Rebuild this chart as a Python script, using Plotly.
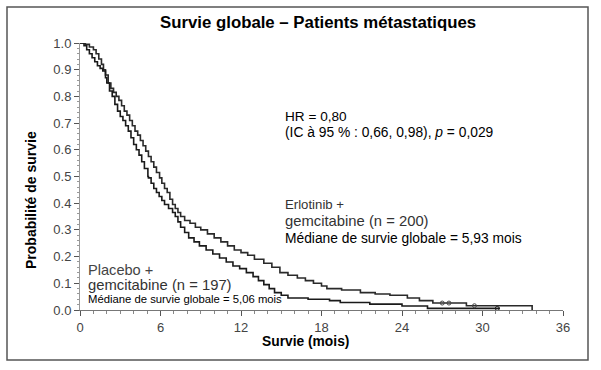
import plotly.graph_objects as go

# Erlotinib + gemcitabine (n = 200)
erl_t = [0, 0.4, 0.7, 1.0, 1.2, 1.4, 1.6, 1.75, 1.9, 2.1, 2.3, 2.5, 2.7, 2.9, 3.1, 3.3, 3.5, 3.7, 3.9,
         4.1, 4.3, 4.5, 4.7, 4.9, 5.1, 5.3, 5.5, 5.7, 5.93, 6.1, 6.3, 6.5, 6.7, 6.9, 7.1, 7.3, 7.5, 7.8,
         8.2, 8.6, 9.0, 9.5, 10.0, 10.5, 11.0, 11.5, 12.0, 12.5, 13.0, 13.7, 14.3, 14.9, 15.5, 16.2,
         16.8, 17.4, 18.0, 18.4, 19.5, 20.9, 22.0, 23.1, 24.4, 25.3, 26.3, 28.8, 33.7, 33.7]
erl_s = [1.0, 0.995, 0.985, 0.975, 0.96, 0.94, 0.92, 0.90, 0.88, 0.85, 0.83, 0.815, 0.80, 0.785, 0.765,
         0.745, 0.73, 0.71, 0.69, 0.67, 0.655, 0.635, 0.615, 0.595, 0.575, 0.555, 0.535, 0.515, 0.495,
         0.475, 0.455, 0.44, 0.415, 0.395, 0.38, 0.365, 0.35, 0.335, 0.325, 0.31, 0.30, 0.285, 0.27,
         0.255, 0.24, 0.225, 0.215, 0.205, 0.19, 0.175, 0.16, 0.14, 0.13, 0.12, 0.11, 0.10, 0.09, 0.08,
         0.075, 0.065, 0.06, 0.055, 0.045, 0.035, 0.026, 0.016, 0.016, 0.0]

# Placebo + gemcitabine (n = 197)
pla_t = [0, 0.3, 0.5, 0.7, 0.9, 1.1, 1.3, 1.5, 1.7, 1.9, 2.0, 2.2, 2.4, 2.6, 2.8, 3.0, 3.2, 3.4, 3.6,
         3.8, 4.0, 4.2, 4.4, 4.6, 4.8, 5.06, 5.1, 5.3, 5.5, 5.7, 5.9, 6.1, 6.3, 6.6, 6.9, 7.1, 7.3, 7.5,
         7.8, 8.1, 8.5, 8.9, 9.4, 9.9, 10.4, 10.9, 11.4, 11.9, 12.4, 12.9, 13.3, 13.7, 14.1, 14.5, 15.0,
         15.5, 17.0, 18.6, 19.4, 21.6, 24.0, 25.9, 31.3]
pla_s = [1.0, 0.99, 0.975, 0.96, 0.945, 0.93, 0.915, 0.905, 0.895, 0.87, 0.85, 0.82, 0.80, 0.77,
         0.745, 0.725, 0.71, 0.69, 0.67, 0.645, 0.62, 0.60, 0.58, 0.555, 0.53, 0.50, 0.495, 0.475,
         0.455, 0.44, 0.425, 0.41, 0.395, 0.38, 0.365, 0.35, 0.33, 0.31, 0.29, 0.27, 0.255, 0.24,
         0.225, 0.21, 0.195, 0.18, 0.165, 0.155, 0.14, 0.125, 0.11, 0.095, 0.08, 0.065, 0.055, 0.045,
         0.04, 0.035, 0.028, 0.022, 0.015, 0.006, 0.006]

# Censored observations (tail)
erl_cens_t = [27.0, 27.5, 29.4]
erl_cens_s = [0.026, 0.026, 0.016]
pla_cens_t = [31.1]
pla_cens_s = [0.006]

x_ticks = [0, 6, 12, 18, 24, 30, 36]
y_ticks = [0.0, 0.1, 0.2, 0.3, 0.4, 0.5, 0.6, 0.7, 0.8, 0.9, 1.0]

FONT = "Liberation Sans, Arial, sans-serif"
W, H = 601, 370
L, R, T, B = 80, 38, 43, 60
PW, PH = W - L - R, H - T - B


def px(xp):
    return (xp - L) / PW


def py(yp):
    return (H - B - yp) / PH


fig = go.Figure()
fig.add_trace(go.Scatter(x=erl_t, y=erl_s, mode="lines", line=dict(color="#2a2a2a", width=1.6, shape="hv"),
                         cliponaxis=False, showlegend=False))
fig.add_trace(go.Scatter(x=pla_t, y=pla_s, mode="lines", line=dict(color="#1a1a1a", width=1.6, shape="hv"),
                         cliponaxis=False, showlegend=False))
fig.add_trace(go.Scatter(x=erl_cens_t, y=erl_cens_s, mode="markers",
                         marker=dict(symbol="circle-open", size=4, color="#444", line=dict(width=1)),
                         cliponaxis=False, showlegend=False))
fig.add_trace(go.Scatter(x=pla_cens_t, y=pla_cens_s, mode="markers",
                         marker=dict(symbol="circle-open", size=4, color="#222", line=dict(width=1)),
                         cliponaxis=False, showlegend=False))

ann = []


def add(text, x, y, size, color="#000", xanchor="left"):
    ann.append(dict(text=text, x=px(x), y=py(y), xref="paper", yref="paper", showarrow=False,
                    xanchor=xanchor, yanchor="middle", font=dict(family=FONT, size=size, color=color)))


add("<b>Survie globale – Patients métastatiques</b>", 318, 22, 16.8, xanchor="center")
add("HR = 0,80", 283, 116, 13.6)
add("(IC à 95 % : 0,66, 0,98), <i>p</i> = 0,029", 283, 132, 13.8)
add("Erlotinib +", 283, 205, 13.2, color="#333")
add("gemcitabine (n = 200)", 283, 221, 14.8, color="#333")
add("Médiane de survie globale = 5,93 mois", 283, 238, 13.8)
add("Placebo +", 86, 270, 14.6, color="#444")
add("gemcitabine (n = 197)", 86, 285, 14.8, color="#333")
add("Médiane de survie globale = 5,06 mois", 86, 299, 11.3)
add("<b>Survie (mois)</b>", 305, 341, 13.8, xanchor="center")
ann.append(dict(text="<b>Probabilité de survie</b>", x=px(31), y=py(200), xref="paper", yref="paper",
                showarrow=False, textangle=-90, xanchor="center", yanchor="middle",
                font=dict(family=FONT, size=14, color="#000")))

fig.update_layout(
    width=W, height=H,
    margin=dict(l=L, r=R, t=T, b=B, pad=0),
    paper_bgcolor="white", plot_bgcolor="white",
    annotations=ann,
    shapes=[dict(type="rect", xref="paper", yref="paper", x0=px(7), x1=px(588), y0=py(360), y1=py(7),
                 line=dict(color="#555", width=1.5), fillcolor="rgba(0,0,0,0)", layer="below")],
)
fig.update_xaxes(range=[0, 36], tickvals=x_ticks, ticktext=[str(v) for v in x_ticks],
                 showgrid=False, zeroline=False, showline=True, linecolor="#777", linewidth=1,
                 ticks="outside", ticklen=5, tickcolor="#555", tickwidth=1,
                 tickfont=dict(family=FONT, size=13, color="#444"),
                 minor=dict(dtick=1, ticks="outside", ticklen=3, tickcolor="#888", showgrid=False))
fig.update_yaxes(range=[0, 1], tickvals=y_ticks, ticktext=[f"{v:.1f}" for v in y_ticks],
                 showgrid=False, zeroline=False, showline=True, linecolor="#999", linewidth=1,
                 ticks="outside", ticklen=5, tickcolor="#555", tickwidth=1,
                 tickfont=dict(family=FONT, size=13, color="#444"),
                 minor=dict(dtick=0.02, ticks="outside", ticklen=2, tickcolor="#999", showgrid=False))

fig.write_html("out.html", config={"displayModeBar": False},
               post_script="document.body.style.margin='0';document.body.style.overflow='hidden';")
